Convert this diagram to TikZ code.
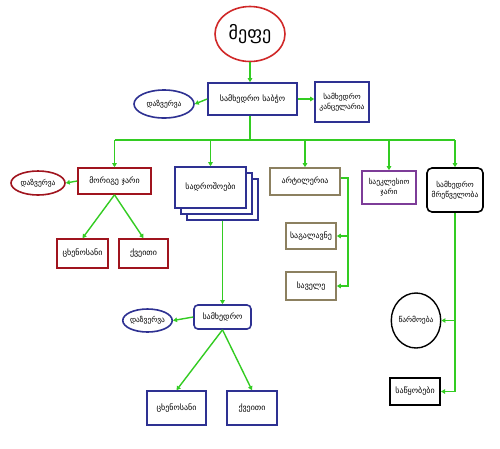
\documentclass[tikz,border=0pt]{standalone}
\usepackage{fontspec}
\setmainfont{DejaVu Sans}
\usetikzlibrary{shapes.geometric,arrows.meta}
\definecolor{gline}{HTML}{33CC22}
\definecolor{navy}{HTML}{2E3192}
\definecolor{bred}{HTML}{D02828}
\definecolor{dred}{HTML}{A0141E}
\definecolor{khaki}{HTML}{8C8060}
\definecolor{purp}{HTML}{7D3C98}
\tikzset{
  box/.style={draw, line width=1.6pt, fill=white, inner sep=1pt, align=center, font=\fontsize{8}{10.5}\selectfont},
  oval/.style={ellipse, draw, line width=1.6pt, fill=white, inner sep=0pt, align=center, font=\fontsize{7.5}{10}\selectfont},
  small/.style={font=\fontsize{7.5}{10.5}\selectfont},
  conn/.style={draw=gline, line width=1.4pt},
  arr/.style={conn, -{Triangle[length=4pt,width=4.5pt]}, gline}
}
\begin{document}
\begin{tikzpicture}[x=1pt,y=-1pt]
\useasboundingbox[fill=white] (0,0) rectangle (500,448);
% nodes
\node[oval, draw=bred, minimum width=70, minimum height=55, font=\fontsize{18}{20}\selectfont] (mepe) at (250,34) {მეფე};
\node[box, draw=navy, minimum width=89, minimum height=32] (sabcho) at (252.5,99) {სამხედრო საბჭო};
\node[oval, draw=navy, minimum width=60, minimum height=28] (dazv1) at (164,104) {დაზვერვა};
\node[box, small, draw=navy, minimum width=54, minimum height=40] (kants) at (342,102) {სამხედრო\\კანცელარია};
\coordinate (bus) at (250,140);
\node[box, draw=dred, minimum width=73, minimum height=26] (morige) at (114.5,181) {მორიგე ჯარი};
\node[oval, draw=dred, minimum width=54, minimum height=24] (dazv2) at (38,183) {დაზვერვა};
\node[box, draw=navy, line width=1.2pt, minimum width=71, minimum height=41] (drosho3) at (222.5,199.5) {};
\node[box, draw=navy, line width=1.2pt, minimum width=71, minimum height=41] (drosho2) at (216.5,193.5) {};
\node[box, draw=navy, minimum width=71, minimum height=41] (drosho) at (210.5,187.5) {სადროშოები};
\node[box, draw=khaki, minimum width=70, minimum height=27] (artil) at (305,181.5) {არტილერია};
\node[box, draw=khaki, minimum width=50, minimum height=26] (galav) at (311,236) {საგალავნე};
\node[box, draw=khaki, minimum width=50, minimum height=28] (vele) at (311,286) {საველე};
\coordinate (artx) at (348,178);
\node[box, small, draw=purp, minimum width=54, minimum height=33] (ekles) at (389,187.5) {საეკლესიო\\ჯარი};
\node[box, small, draw=black, rounded corners=5pt, minimum width=56, minimum height=44] (mretsv) at (455,190) {სამხედრო\\მრეწველობა};
\node[oval, draw=black, line width=1.4pt, minimum width=42, minimum height=55] (tsarm) at (416,320.5) {წარმოება};
\node[box, draw=black, line width=2pt, minimum width=50, minimum height=27] (satsq) at (415,391.5) {საწყობები};
\node[box, draw=dred, minimum width=51, minimum height=29] (tsk1) at (82.5,253.5) {ცხენოსანი};
\node[box, draw=dred, minimum width=49, minimum height=29] (kv1) at (143.5,253.5) {ქვეითი};
\node[box, draw=navy, rounded corners=4pt, minimum width=57, minimum height=24] (samkh) at (222.5,317) {სამხედრო};
\node[oval, draw=navy, minimum width=49, minimum height=23] (dazv3) at (147.5,320.5) {დაზვერვა};
\node[box, draw=navy, minimum width=59, minimum height=34] (tsk2) at (176.5,408) {ცხენოსანი};
\node[box, draw=navy, minimum width=50, minimum height=34] (kv2) at (252,408) {ქვეითი};
% connectors
\draw[arr] (mepe.south) -- (sabcho.north -| mepe.south);
\draw[arr] (sabcho.west) -- (dazv1.east);
\draw[arr] (sabcho.east) -- (kants.west |- sabcho.east);
\draw[conn] (sabcho.south -| bus) -- (bus);
\draw[conn] (morige.north |- bus) -- (mretsv.north |- bus);
\draw[arr] (morige.north |- bus) -- (morige.north);
\draw[arr] (drosho.north |- bus) -- (drosho.north);
\draw[arr] (artil.north |- bus) -- (artil.north);
\draw[arr] (ekles.north |- bus) -- (ekles.north);
\draw[arr] (mretsv.north |- bus) -- (mretsv.north);
\draw[arr] (morige.west) -- (dazv2.east);
\draw[arr] (morige.south) -- (tsk1.north);
\draw[arr] (morige.south) -- (kv1.north);
\draw[arr] (artil.east |- artx) -- (artx) |- (vele.east);
\draw[arr] (galav.east -| artx) -- (galav.east);
\draw[arr] (mretsv.south) |- (satsq.east);
\draw[arr] (tsarm.east -| mretsv.south) -- (tsarm.east);
\draw[arr] (drosho3.south) -- (samkh.north);
\draw[arr] (samkh.west) -- (dazv3.east);
\draw[arr] (samkh.south) -- (tsk2.north);
\draw[arr] (samkh.south) -- (kv2.north);
\end{tikzpicture}
\end{document}
